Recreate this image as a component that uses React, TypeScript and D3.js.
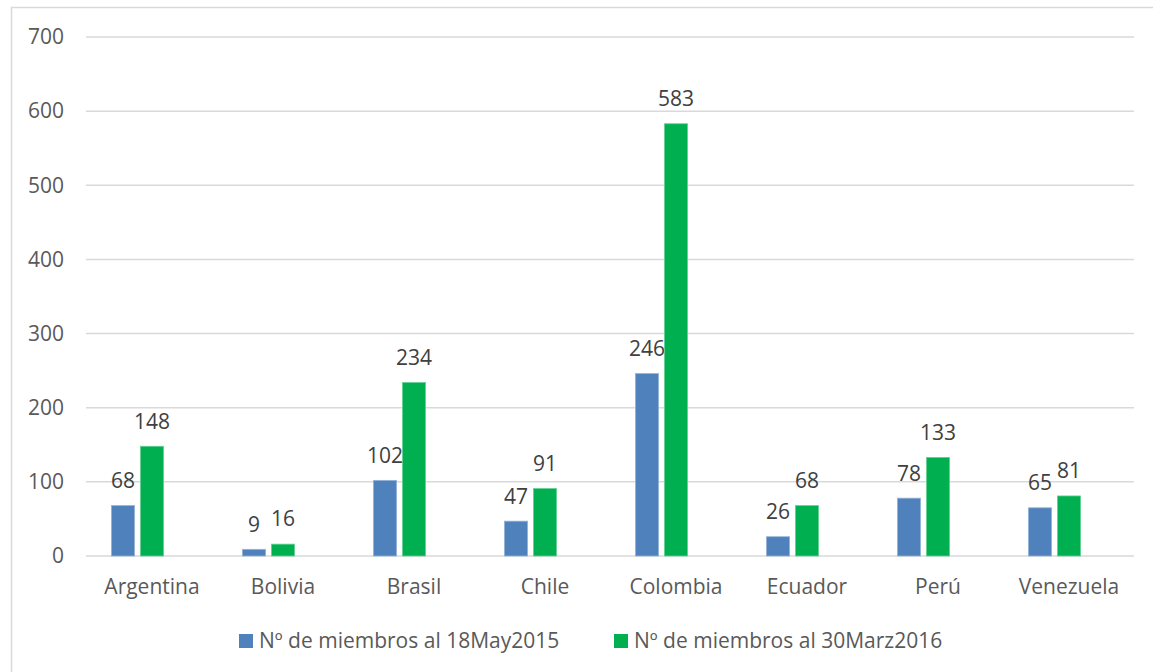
import React from "react";
import * as d3 from "d3";

const categories = ["Argentina", "Bolivia", "Brasil", "Chile", "Colombia", "Ecuador", "Perú", "Venezuela"];
const may2015 = [68, 9, 102, 47, 246, 26, 78, 65];
const mar2016 = [148, 16, 234, 91, 583, 68, 133, 81];
const seriesNames = ["Nº de miembros al 18May2015", "Nº de miembros al 30Marz2016"];
const yTicks = [0, 100, 200, 300, 400, 500, 600, 700];

const colors = ["#4F81BD", "#00B050"];
const textColor = "#595959";
const gridColor = "#d9d9d9";
const font = "'Open Sans', sans-serif";

const W = 1153, H = 672;

export default function App() {
  const x0 = d3.scaleBand<string>().domain(categories).range([86.5, 1134.5]).paddingInner(0.336).paddingOuter(0.168);
  // excel leaves room for a third (empty) series slot, so bars sit left of centre
  const x1 = d3.scaleBand<string>().domain(["a", "b", "c"]).range([0, x0.bandwidth()]).paddingInner(0.2).paddingOuter(0.1);
  const y = d3.scaleLinear().domain([0, 700]).range([556, 37]);

  const series = [may2015, mar2016];
  const slots = ["a", "b"];

  return (
    <svg width={W} height={H} style={{ position: "absolute", left: 0, top: 0, background: "#fff" }} fontFamily={font}>
      {/* chart frame */}
      <path d={`M11.5,${H} V7.5 H${W}`} fill="none" stroke={gridColor} strokeWidth={1.5} />

      {yTicks.map(t => (
        <g key={t}>
          <line x1={86} x2={1134} y1={y(t)} y2={y(t)} stroke={gridColor} strokeWidth={1.5} />
          <text x={64} y={y(t)} dy="0.35em" textAnchor="end" fontSize={21} fill={textColor}>{t}</text>
        </g>
      ))}

      {series.map((vals, si) => (
        <g key={si}>
          {vals.map((v, i) => {
            const bx = (x0(categories[i]) as number) + (x1(slots[si]) as number);
            const bw = x1.bandwidth();
            return (
              <g key={i}>
                <rect x={bx} y={y(v)} width={bw} height={y(0) - y(v)} fill={colors[si]}
                  stroke={si === 0 ? "#95b3d7" : "#66d096"} strokeWidth={0.8} />
                <text x={bx + bw / 2} y={y(v) - 25} dy="0.35em" textAnchor="middle" fontSize={21} fill="#404040">{v}</text>
              </g>
            );
          })}
        </g>
      ))}

      {categories.map(c => (
        <text key={c} x={(x0(c) as number) + x0.bandwidth() / 2} y={587} dy="0.35em" textAnchor="middle" fontSize={21} fill={textColor}>{c}</text>
      ))}

      {/* legend */}
      {[239, 614].map((lx, i) => (
        <g key={i}>
          <rect x={lx} y={634} width={14} height={14} fill={colors[i]} />
          <text x={lx + 20} y={641} dy="0.35em" fontSize={21} fill={textColor}>{seriesNames[i]}</text>
        </g>
      ))}
    </svg>
  );
}
